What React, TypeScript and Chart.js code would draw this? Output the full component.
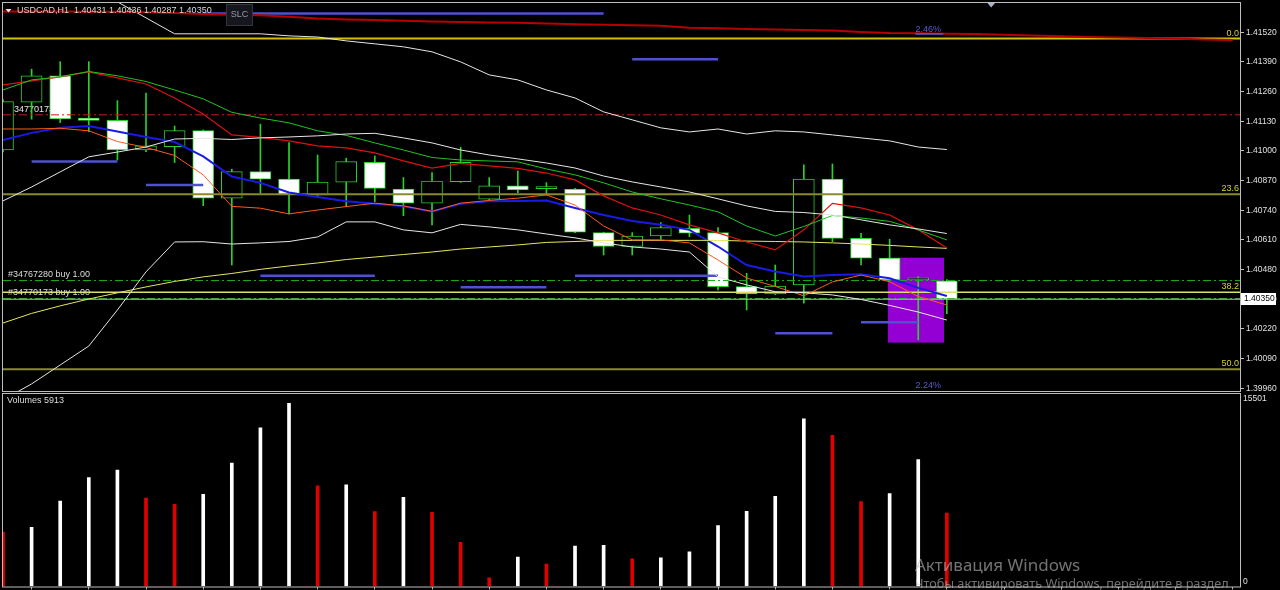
import React, { useEffect, useRef } from 'react';
import { Chart, registerables } from 'chart.js';

Chart.register(...registerables);

// ---------------- data ----------------
const SYMBOL = 'USDCAD';
const TIMEFRAME = 'H1';

const OPEN = [1.41004, 1.41213, 1.41329, 1.41144, 1.41134, 1.41004, 1.41019, 1.41089, 1.40793, 1.40909, 1.40876, 1.40807, 1.40863, 1.40950, 1.40833, 1.40771, 1.40865, 1.40788, 1.40847, 1.40835, 1.40833, 1.40642, 1.40581, 1.40627, 1.40661, 1.40642, 1.40405, 1.40373, 1.40413, 1.40877, 1.40617, 1.40530, 1.40435, 1.40431];
const HIGH = [1.41225, 1.41358, 1.41391, 1.41391, 1.41220, 1.41253, 1.41109, 1.41092, 1.40920, 1.41117, 1.41036, 1.40982, 1.40968, 1.40978, 1.40883, 1.40905, 1.41016, 1.40883, 1.40912, 1.40861, 1.40836, 1.40644, 1.40642, 1.40686, 1.40719, 1.40664, 1.40464, 1.40500, 1.40939, 1.40943, 1.40639, 1.40613, 1.40449, 1.40436];
const LOW = [1.40995, 1.41139, 1.41124, 1.41084, 1.40960, 1.40997, 1.40949, 1.40760, 1.40500, 1.40815, 1.40724, 1.40805, 1.40756, 1.40778, 1.40716, 1.40676, 1.40862, 1.40786, 1.40817, 1.40807, 1.40642, 1.40544, 1.40544, 1.40613, 1.40624, 1.40391, 1.40303, 1.40370, 1.40333, 1.40602, 1.40500, 1.40433, 1.40172, 1.40287];
const CLOSE = [1.41216, 1.41329, 1.41140, 1.41134, 1.41004, 1.41022, 1.41089, 1.40793, 1.40909, 1.40876, 1.40808, 1.40863, 1.40953, 1.40836, 1.40771, 1.40868, 1.40950, 1.40847, 1.40829, 1.40835, 1.40644, 1.40581, 1.40627, 1.40664, 1.40639, 1.40405, 1.40373, 1.40408, 1.40877, 1.40617, 1.40530, 1.40435, 1.40442, 1.40350];
const VOLUME = [4384, 4763, 6886, 8775, 9365, 7128, 6620, 7427, 9930, 12780, 14749, 8097, 8178, 6031, 7185, 5974, 3552, 702, 2365, 1800, 3253, 3310, 2236, 2317, 2801, 4900, 6055, 7266, 13506, 12166, 6838, 7484, 10228, 5913];

const BB_UPPER = [1.41924, 1.41859, 1.41793, 1.41727, 1.41653, 1.41583, 1.41513, 1.41513, 1.41513, 1.41513, 1.41504, 1.41499, 1.41482, 1.41469, 1.41456, 1.41434, 1.41390, 1.41333, 1.41311, 1.41267, 1.41232, 1.41171, 1.41136, 1.41101, 1.41083, 1.41096, 1.41074, 1.41088, 1.41083, 1.41070, 1.41057, 1.41044, 1.41017, 1.41006];
const BB_MIDDLE = [1.40781, 1.40842, 1.40908, 1.40974, 1.40995, 1.41017, 1.41052, 1.41055, 1.41050, 1.41057, 1.41061, 1.41066, 1.41074, 1.41077, 1.41057, 1.41035, 1.41004, 1.40982, 1.40965, 1.40947, 1.40925, 1.40890, 1.40864, 1.40842, 1.40820, 1.40790, 1.40759, 1.40735, 1.40730, 1.40719, 1.40698, 1.40676, 1.40658, 1.40638];
const BB_LOWER = [1.39909, 1.39979, 1.40062, 1.40145, 1.40303, 1.40470, 1.40601, 1.40602, 1.40592, 1.40597, 1.40603, 1.40623, 1.40689, 1.40689, 1.40654, 1.40641, 1.40678, 1.40667, 1.40654, 1.40636, 1.40619, 1.40597, 1.40579, 1.40570, 1.40557, 1.40448, 1.40413, 1.40383, 1.40378, 1.40369, 1.40349, 1.40323, 1.40294, 1.40259];
const MA_GREEN = [1.41267, 1.41311, 1.41325, 1.41348, 1.41329, 1.41304, 1.41267, 1.41228, 1.41169, 1.41144, 1.41123, 1.41088, 1.41068, 1.41035, 1.41004, 1.40971, 1.40960, 1.40956, 1.40952, 1.40921, 1.40895, 1.40860, 1.40820, 1.40790, 1.40763, 1.40733, 1.40671, 1.40627, 1.40669, 1.40717, 1.40706, 1.40691, 1.40654, 1.40610];
const MA_RED = [1.41289, 1.41307, 1.41324, 1.41346, 1.41320, 1.41293, 1.41232, 1.41162, 1.41070, 1.41059, 1.41044, 1.41022, 1.41013, 1.40991, 1.40956, 1.40925, 1.40945, 1.40934, 1.40923, 1.40903, 1.40873, 1.40803, 1.40750, 1.40719, 1.40676, 1.40641, 1.40601, 1.40566, 1.40654, 1.40770, 1.40750, 1.40719, 1.40654, 1.40575];
const MA_BLUE = [1.41048, 1.41079, 1.41101, 1.41109, 1.41085, 1.41061, 1.41039, 1.40976, 1.40888, 1.40860, 1.40818, 1.40798, 1.40779, 1.40768, 1.40757, 1.40735, 1.40768, 1.40779, 1.40781, 1.40783, 1.40750, 1.40719, 1.40693, 1.40676, 1.40654, 1.40581, 1.40500, 1.40472, 1.40450, 1.40456, 1.40460, 1.40442, 1.40400, 1.40364];
const MA_ORANGE = [1.41096, 1.41096, 1.41099, 1.41088, 1.41041, 1.41015, 1.40980, 1.40895, 1.40757, 1.40749, 1.40724, 1.40741, 1.40756, 1.40771, 1.40759, 1.40735, 1.40771, 1.40783, 1.40793, 1.40807, 1.40763, 1.40671, 1.40610, 1.40610, 1.40597, 1.40522, 1.40443, 1.40406, 1.40365, 1.40426, 1.40456, 1.40427, 1.40362, 1.40325];
const MA_YELLOW = [1.40246, 1.40288, 1.40321, 1.40351, 1.40378, 1.40404, 1.40428, 1.40448, 1.40463, 1.40481, 1.40496, 1.40509, 1.40524, 1.40535, 1.40546, 1.40557, 1.40570, 1.40579, 1.40588, 1.40599, 1.40603, 1.40608, 1.40608, 1.40608, 1.40608, 1.40608, 1.40605, 1.40603, 1.40601, 1.40597, 1.40592, 1.40586, 1.40579, 1.40573];
// long moving average, shifted forward past the last bar
const MA_LONG_SHIFTED = [1.41611, 1.41611, 1.41611, 1.41610, 1.41610, 1.41607, 1.41604, 1.41600, 1.41597, 1.41594, 1.41588, 1.41580, 1.41576, 1.41573, 1.41570, 1.41567, 1.41565, 1.41563, 1.41561, 1.41558, 1.41555, 1.41553, 1.41551, 1.41548, 1.41540, 1.41537, 1.41534, 1.41532, 1.41530, 1.41527, 1.41521, 1.41517, 1.41516, 1.41513, 1.41512, 1.41509, 1.41506, 1.41502, 1.41499, 1.41497, 1.41495, 1.41492, 1.41488, 1.41486];

// level segments (bar index start/end, price)
const SEG_START = [1, 5, 7, 22, 9, 16, 20, 27, 30];
const SEG_END = [4, 7, 21, 25, 13, 19, 25, 29, 32];
const SEG_PRICE = [1.40953, 1.40851, 1.41602, 1.41402, 1.40453, 1.40403, 1.40453, 1.40201, 1.40249];

const FIB_LABELS = ['0.0', '23.6', '38.2', '50.0'];
const FIB_PRICES = [1.41492, 1.40810, 1.40381, 1.40043];

const ORDER_IDS = ['#34767280', '#34770173'];
const ORDER_LOTS = [1.0, 1.0];
const ORDER_PRICES = [1.40432, 1.40353];
const SL_LABEL = '34770173';
const SL_PRICE = 1.41158;
const BID = 1.40350;

const RECT_X = [30.94, 32.9];
const RECT_PRICE = [1.40160, 1.40532];

const PCT_LABELS = ['2.46%', '2.24%'];
const PCT_PRICES = [1.41530, 1.39970];
const PCT_INDEX = 31.9;

const PRICE_TICKS = [1.39960, 1.40090, 1.40220, 1.40350, 1.40480, 1.40610, 1.40740, 1.40870, 1.41000, 1.41130, 1.41260, 1.41390, 1.41520];
const VOLUME_TICKS = [0, 15501];
const TIME_TICKS = [0, 2, 4, 6, 8, 10, 12, 14, 16, 18, 20, 22, 24, 26, 28, 30, 32, 34, 36, 38, 40, 42];

const X_MIN = 0;
const X_MAX = 43.25;
const Y_MIN = 1.39948;
const Y_MAX = 1.41648;
const VOL_MAX = 15501;

// ---------------- style ----------------
const FONT = '"Liberation Sans", Arial, sans-serif';
const CANDLE_GREEN = '#2bd12b';
const TEXT = '#dcdcdc';

const fmt = (v: number) => v.toFixed(5);

const series = (arr: number[], color: string, width: number, order = 1) => ({
  type: 'line',
  data: arr.map((v, i) => ({ x: i, y: v })),
  borderColor: color,
  borderWidth: width,
  pointRadius: 0,
  tension: 0,
  fill: false,
  order,
});

const hline = (p: number, color: string, width: number, dash: number[] = [], order = 2) => ({
  type: 'line',
  data: [{ x: X_MIN, y: p }, { x: X_MAX, y: p }],
  borderColor: color,
  borderWidth: width,
  borderDash: dash,
  pointRadius: 0,
  fill: false,
  order,
});

const DASH_DOT = [8, 3, 2, 3];

const fitRightAxis = (s: any) => {
  s.width = 40;
  s.paddingTop = 0;
  s.paddingBottom = 0;
};

const framePlugin = {
  id: 'frame',
  afterDraw(chart: any) {
    const { ctx, chartArea: a } = chart;
    ctx.save();
    ctx.strokeStyle = '#bdbdbd';
    ctx.lineWidth = 1;
    ctx.strokeRect(a.left - 0.5, a.top - 0.5, a.right - a.left + 1, a.bottom - a.top + 1);
    ctx.restore();
  },
};

const mainDecor = {
  id: 'mainDecor',
  beforeDatasetsDraw(chart: any) {
    const { ctx } = chart;
    const x = chart.scales.x;
    const y = chart.scales.y;
    ctx.save();
    const rx0 = x.getPixelForValue(RECT_X[0]);
    const rx1 = x.getPixelForValue(RECT_X[1]);
    const ry0 = y.getPixelForValue(RECT_PRICE[1]);
    const ry1 = y.getPixelForValue(RECT_PRICE[0]);
    ctx.fillStyle = '#9400d3';
    ctx.fillRect(rx0, ry0, rx1 - rx0, ry1 - ry0);
    ctx.font = `9px ${FONT}`;
    ctx.fillStyle = '#e6e6e6';
    ctx.textAlign = 'left';
    ctx.textBaseline = 'middle';
    ctx.fillText(SL_LABEL, 14, y.getPixelForValue(SL_PRICE) - 5);
    ctx.restore();
  },
  afterDatasetsDraw(chart: any) {
    const { ctx, chartArea: a } = chart;
    const x = chart.scales.x;
    const y = chart.scales.y;
    ctx.save();
    ctx.font = `9px ${FONT}`;
    ctx.textBaseline = 'middle';
    // fibo labels
    ctx.textAlign = 'right';
    ctx.fillStyle = '#d4d428';
    FIB_LABELS.forEach((l, i) => ctx.fillText(l, a.right - 1, y.getPixelForValue(FIB_PRICES[i]) - 5.5));
    // order labels
    ctx.textAlign = 'left';
    ctx.fillStyle = TEXT;
    ORDER_IDS.forEach((id, i) =>
      ctx.fillText(`${id} buy ${ORDER_LOTS[i].toFixed(2)}`, 8, y.getPixelForValue(ORDER_PRICES[i]) - 6)
    );
    // percent labels
    ctx.fillStyle = '#5a5ad0';
    const px = x.getPixelForValue(PCT_INDEX);
    PCT_LABELS.forEach((l, i) => ctx.fillText(l, px, y.getPixelForValue(PCT_PRICES[i])));
    ctx.strokeStyle = '#5a5ad0';
    ctx.lineWidth = 1.5;
    ctx.beginPath();
    const uy = y.getPixelForValue(PCT_PRICES[0]) + 4;
    ctx.moveTo(px, uy);
    ctx.lineTo(px + 28, uy);
    ctx.stroke();
    // header
    const last = CLOSE.length - 1;
    ctx.fillStyle = '#e8e8e8';
    ctx.beginPath();
    ctx.moveTo(5.5, 9);
    ctx.lineTo(11.5, 9);
    ctx.lineTo(8.5, 12.5);
    ctx.closePath();
    ctx.fill();
    ctx.fillStyle = '#d8d8d8';
    ctx.fillText(
      `${SYMBOL},${TIMEFRAME}  ${fmt(OPEN[last])} ${fmt(HIGH[last])} ${fmt(LOW[last])} ${fmt(CLOSE[last])}`,
      17,
      11
    );
    // SLC button
    ctx.fillStyle = '#16161e';
    ctx.fillRect(226, 4, 27, 22);
    ctx.strokeStyle = '#34343e';
    ctx.lineWidth = 1;
    ctx.strokeRect(226.5, 4.5, 26, 21);
    ctx.fillStyle = '#9a9aa6';
    ctx.textAlign = 'center';
    ctx.fillText('SLC', 239.5, 15);
    // shift marker
    ctx.fillStyle = '#aab4cc';
    ctx.beginPath();
    ctx.moveTo(987.5, 3);
    ctx.lineTo(995, 3);
    ctx.lineTo(991.2, 7.5);
    ctx.closePath();
    ctx.fill();
    ctx.restore();
  },
  afterDraw(chart: any) {
    const { ctx, chartArea: a } = chart;
    const y = chart.scales.y;
    const yb = y.getPixelForValue(BID);
    ctx.save();
    ctx.fillStyle = '#ffffff';
    ctx.fillRect(a.right + 1, Math.round(yb) - 6, 35, 12);
    ctx.fillStyle = '#000000';
    ctx.font = `8.5px ${FONT}`;
    ctx.textAlign = 'left';
    ctx.textBaseline = 'middle';
    ctx.fillText(fmt(BID), a.right + 4, Math.round(yb));
    ctx.restore();
  },
};

const volDecor = {
  id: 'volDecor',
  afterDraw(chart: any) {
    const { ctx, chartArea: a } = chart;
    ctx.save();
    ctx.font = `9px ${FONT}`;
    ctx.fillStyle = TEXT;
    ctx.textAlign = 'left';
    ctx.textBaseline = 'middle';
    ctx.fillText(`Volumes ${VOLUME[VOLUME.length - 1]}`, 7, a.top + 7);
    ctx.restore();
  },
};

function mainConfig(): any {
  const idx = OPEN.map((_, i) => i);
  const segData: any[] = [];
  SEG_START.forEach((s, k) => {
    segData.push({ x: s, y: SEG_PRICE[k] });
    segData.push({ x: SEG_END[k], y: SEG_PRICE[k] });
    segData.push({ x: SEG_END[k] + 0.01, y: null });
  });
  return {
    type: 'bar',
    data: {
      datasets: [
        series(MA_LONG_SHIFTED, '#b80000', 2),
        series(BB_UPPER, '#e6e6e6', 1),
        series(BB_MIDDLE, '#e6e6e6', 1),
        series(BB_LOWER, '#e6e6e6', 1),
        series(MA_GREEN, '#22c322', 1),
        series(MA_RED, '#e01010', 1.2),
        series(MA_ORANGE, '#ff5a1a', 1),
        series(MA_YELLOW, '#e6e65c', 1),
        series(MA_BLUE, '#1a1ae6', 2),
        {
          type: 'line',
          data: segData,
          borderColor: '#5050d0',
          borderWidth: 2.5,
          pointRadius: 0,
          spanGaps: false,
          fill: false,
          order: 1,
        },
        hline(FIB_PRICES[0], '#d2c200', 2),
        hline(FIB_PRICES[1], '#8a8a2a', 2),
        hline(FIB_PRICES[2], '#dede70', 1.5),
        hline(FIB_PRICES[3], '#8a8a2a', 2),
        hline(SL_PRICE, '#d01818', 1, DASH_DOT),
        hline(BID, '#bcbcbc', 1),
        hline(ORDER_PRICES[0], '#12b012', 1, DASH_DOT),
        hline(ORDER_PRICES[1], '#12b012', 1, DASH_DOT),
        {
          type: 'bar',
          data: idx.map((i) => ({ x: i, y: [OPEN[i], CLOSE[i]] })),
          barThickness: 21,
          minBarLength: 2,
          borderWidth: 1,
          borderSkipped: false,
          borderColor: CANDLE_GREEN,
          backgroundColor: idx.map((i) => (CLOSE[i] >= OPEN[i] ? '#000000' : '#ffffff')),
          grouped: false,
          clip: 0,
          order: 5,
        },
        {
          type: 'bar',
          data: idx.map((i) => ({ x: i, y: [LOW[i], HIGH[i]] })),
          barThickness: 1,
          borderWidth: 0,
          backgroundColor: CANDLE_GREEN,
          grouped: false,
          clip: 0,
          order: 6,
        },
      ],
    },
    options: {
      animation: false,
      responsive: false,
      devicePixelRatio: 1,
      events: [],
      layout: { padding: { left: 3, top: 3, right: 0, bottom: 1 } },
      plugins: { legend: { display: false }, tooltip: { enabled: false } },
      scales: {
        x: { type: 'linear', min: X_MIN, max: X_MAX, display: false, offset: false },
        y: {
          type: 'linear',
          position: 'right',
          min: Y_MIN,
          max: Y_MAX,
          afterBuildTicks: (s: any) => {
            s.ticks = PRICE_TICKS.map((v) => ({ value: v }));
          },
          afterFit: fitRightAxis,
          ticks: {
            callback: (v: any) => Number(v).toFixed(5),
            color: '#e0e0e0',
            font: { family: FONT, size: 8.5 },
            padding: 2,
            autoSkip: false,
          },
          grid: { drawOnChartArea: false, drawTicks: true, tickLength: 4, color: '#c0c0c0' },
          border: { display: false },
        },
      },
    },
    plugins: [mainDecor, framePlugin],
  };
}

function volConfig(): any {
  return {
    type: 'bar',
    data: {
      datasets: [
        {
          type: 'bar',
          data: VOLUME.map((v, i) => ({ x: i, y: v })),
          barThickness: 3,
          backgroundColor: VOLUME.map((v, i) => (i > 0 && v > VOLUME[i - 1] ? '#ffffff' : '#e00000')),
          grouped: false,
          clip: 0,
        },
      ],
    },
    options: {
      animation: false,
      responsive: false,
      devicePixelRatio: 1,
      events: [],
      layout: { padding: { left: 3, top: 2, right: 0, bottom: 0 } },
      plugins: { legend: { display: false }, tooltip: { enabled: false } },
      scales: {
        x: {
          type: 'linear',
          min: X_MIN,
          max: X_MAX,
          offset: false,
          afterBuildTicks: (s: any) => {
            s.ticks = TIME_TICKS.map((v) => ({ value: v }));
          },
          afterFit: (s: any) => {
            s.height = 3.5;
            s.paddingLeft = 0;
            s.paddingRight = 0;
          },
          ticks: { display: false },
          grid: { drawOnChartArea: false, drawTicks: true, tickLength: 3, color: '#b0b0b0' },
          border: { display: false },
        },
        y: {
          type: 'linear',
          position: 'right',
          min: 0,
          max: VOL_MAX,
          afterBuildTicks: (s: any) => {
            s.ticks = VOLUME_TICKS.map((v) => ({ value: v }));
          },
          afterFit: fitRightAxis,
          ticks: {
            callback: (v: any) => (Number(v) === VOLUME_TICKS[0] ? [String(v), ''] : ['', String(v)]),
            color: '#e0e0e0',
            font: { family: FONT, size: 8.5 },
            padding: 3,
            autoSkip: false,
          },
          grid: { drawOnChartArea: false, drawTicks: false, color: '#c0c0c0' },
          border: { display: false },
        },
      },
    },
    plugins: [volDecor, framePlugin],
  };
}

export default function App() {
  const mainRef = useRef<HTMLCanvasElement | null>(null);
  const volRef = useRef<HTMLCanvasElement | null>(null);

  useEffect(() => {
    document.body.style.margin = '0';
    document.body.style.background = '#000';
    const main = new Chart(mainRef.current as HTMLCanvasElement, mainConfig());
    const vol = new Chart(volRef.current as HTMLCanvasElement, volConfig());
    return () => {
      main.destroy();
      vol.destroy();
    };
  }, []);

  return (
    <div style={{ position: 'relative', width: 1280, height: 590, background: '#000', overflow: 'hidden' }}>
      <canvas ref={mainRef} width={1280} height={392} style={{ position: 'absolute', left: 0, top: 0 }} />
      <canvas ref={volRef} width={1280} height={198} style={{ position: 'absolute', left: 0, top: 392 }} />
      <div
        style={{
          position: 'absolute',
          left: 915,
          top: 554,
          color: 'rgba(190,190,190,0.6)',
          font: '17px "Noto Sans", sans-serif',
          lineHeight: '22px',
          whiteSpace: 'nowrap',
          pointerEvents: 'none',
        }}
      >
        Активация Windows
      </div>
      <div
        style={{
          position: 'absolute',
          left: 915,
          top: 575,
          color: 'rgba(190,190,190,0.6)',
          font: '12.7px "Noto Sans", sans-serif',
          lineHeight: '16px',
          whiteSpace: 'nowrap',
          pointerEvents: 'none',
        }}
      >
        Чтобы активировать Windows, перейдите в раздел
      </div>
    </div>
  );
}
